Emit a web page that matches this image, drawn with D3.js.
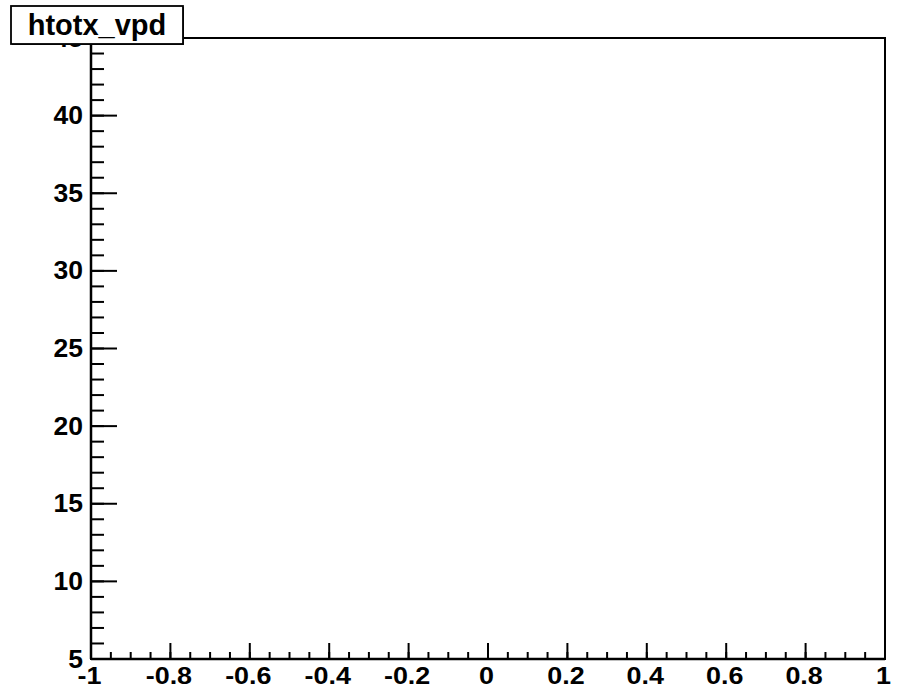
<!DOCTYPE html>
<html>
<head>
<meta charset="utf-8">
<script src="https://cdn.jsdelivr.net/npm/d3@7"></script>
<style>
  html, body { margin: 0; padding: 0; background: #fff; }
  svg { display: block; }
  text { font-family: "Liberation Sans", Arial, Helvetica, sans-serif; font-weight: bold; fill: #000; }
</style>
</head>
<body>
<svg id="chart" width="906" height="691"></svg>
<script>
// ---- data ----
const title = "htotx_vpd";
const xDomain = [-1, 1];
const yDomain = [5, 45];
const xMajorTicks = [-1, -0.8, -0.6, -0.4, -0.2, 0, 0.2, 0.4, 0.6, 0.8, 1];
const xTickLabels = ["-1", "-0.8", "-0.6", "-0.4", "-0.2", "0", "0.2", "0.4", "0.6", "0.8", "1"];
const yMajorTicks = [5, 10, 15, 20, 25, 30, 35, 40, 45];
const yTickLabels = ["5", "10", "15", "20", "25", "30", "35", "40", "45"];
const binValues = []; // histogram is empty

// ---- layout ----
const svg = d3.select("#chart");
const fLeft = 91, fRight = 885, fTop = 38, fBottom = 659;

const x = d3.scaleLinear().domain(xDomain).range([fLeft, fRight]);
const y = d3.scaleLinear().domain(yDomain).range([fBottom, fTop]);

const xMinor = d3.range(0, 41).map(i => xDomain[0] + i * 0.05);
const yMinor = d3.range(yDomain[0], yDomain[1] + 0.001, 1);

// frame
svg.append("rect")
  .attr("x", fLeft).attr("y", fTop)
  .attr("width", fRight - fLeft).attr("height", fBottom - fTop)
  .attr("fill", "none").attr("stroke", "#000").attr("stroke-width", 2);

// X axis
const xAxisG = svg.append("g");
xAxisG.selectAll("line.minor").data(xMinor).join("line").attr("class", "minor")
  .attr("x1", d => x(d)).attr("x2", d => x(d))
  .attr("y1", fBottom).attr("y2", fBottom - 7)
  .attr("stroke", "#000").attr("stroke-width", 2);
xAxisG.selectAll("line.major").data(xMajorTicks).join("line").attr("class", "major")
  .attr("x1", d => x(d)).attr("x2", d => x(d))
  .attr("y1", fBottom).attr("y2", fBottom - 16)
  .attr("stroke", "#000").attr("stroke-width", 2);
xAxisG.selectAll("g.lbl").data(xMajorTicks).join("g").attr("class", "lbl")
  .attr("transform", d => `translate(${x(d) - 1.5},684) scale(1.17,1)`)
  .append("text")
  .attr("text-anchor", "middle")
  .attr("font-size", 23)
  .text((d, i) => xTickLabels[i]);

// Y axis
const yAxisG = svg.append("g");
yAxisG.selectAll("line.minor").data(yMinor).join("line").attr("class", "minor")
  .attr("x1", fLeft).attr("x2", fLeft + 13)
  .attr("y1", d => y(d)).attr("y2", d => y(d))
  .attr("stroke", "#000").attr("stroke-width", 2);
yAxisG.selectAll("line.major").data(yMajorTicks).join("line").attr("class", "major")
  .attr("x1", fLeft).attr("x2", fLeft + 26)
  .attr("y1", d => y(d)).attr("y2", d => y(d))
  .attr("stroke", "#000").attr("stroke-width", 2);
yAxisG.selectAll("text").data(yMajorTicks).join("text")
  .attr("x", 83).attr("y", d => y(d) + 8.5)
  .attr("text-anchor", "end")
  .attr("font-size", 26.5)
  .text((d, i) => yTickLabels[i]);

// axis lines
svg.append("line").attr("x1", fLeft).attr("x2", fRight).attr("y1", fBottom).attr("y2", fBottom)
  .attr("stroke", "#000").attr("stroke-width", 2.5);
svg.append("line").attr("x1", fLeft).attr("x2", fLeft).attr("y1", fTop).attr("y2", fBottom)
  .attr("stroke", "#000").attr("stroke-width", 2.5);

// bars (none)
svg.append("g").selectAll("rect").data(binValues).join("rect");

// title box
const tb = svg.append("g");
tb.append("rect").attr("x", 12).attr("y", 7).attr("width", 172).attr("height", 38).attr("fill", "#333");
tb.append("rect").attr("x", 11).attr("y", 6).attr("width", 172).attr("height", 38)
  .attr("fill", "#fff").attr("stroke", "#000").attr("stroke-width", 1.8);
tb.append("text").attr("x", 97).attr("y", 35).attr("text-anchor", "middle")
  .attr("font-size", 29).text(title);
</script>
</body>
</html>
